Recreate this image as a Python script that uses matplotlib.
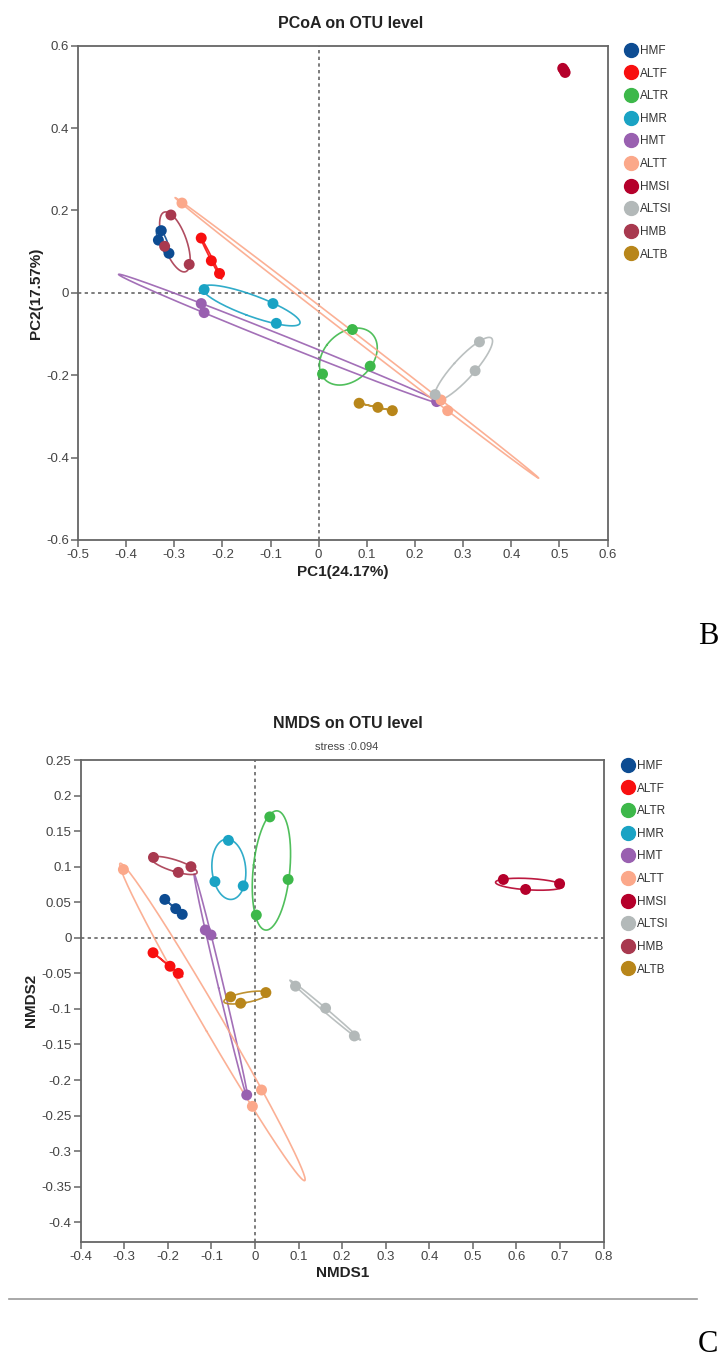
import numpy as np
import matplotlib
matplotlib.use("Agg")
import matplotlib.pyplot as plt
from matplotlib.lines import Line2D

plt.rcParams["font.family"] = ["Liberation Sans", "DejaVu Sans"]

groups = ["HMF", "ALTF", "ALTR", "HMR", "HMT", "ALTT", "HMSI", "ALTSI", "HMB", "ALTB"]
colors = ["#0d4c92", "#f80f0f", "#3db84a", "#1aa3c4", "#9960b0",
          "#fba88a", "#b5002b", "#b3b9b9", "#a8394f", "#b8861a"]

# PCoA coordinates (3 samples per group), in legend order
pcoa_x = [[-0.327, -0.333, -0.311],
          [-0.244, -0.223, -0.206],
          [0.070, 0.107, 0.008],
          [-0.238, -0.095, -0.088],
          [-0.244, -0.238, 0.245],
          [-0.284, 0.254, 0.268],
          [0.507, 0.510, 0.512],
          [0.334, 0.325, 0.242],
          [-0.307, -0.269, -0.320],
          [0.084, 0.123, 0.153]]
pcoa_y = [[0.151, 0.128, 0.096],
          [0.133, 0.078, 0.047],
          [-0.089, -0.178, -0.197],
          [0.008, -0.026, -0.074],
          [-0.026, -0.048, -0.264],
          [0.218, -0.260, -0.286],
          [0.545, 0.540, 0.535],
          [-0.119, -0.189, -0.247],
          [0.189, 0.069, 0.113],
          [-0.268, -0.278, -0.286]]

# NMDS coordinates
nmds_x = [[-0.207, -0.182, -0.167],
          [-0.234, -0.195, -0.176],
          [0.034, 0.076, 0.003],
          [-0.061, -0.092, -0.027],
          [-0.114, -0.101, -0.019],
          [-0.302, 0.015, -0.006],
          [0.570, 0.621, 0.699],
          [0.093, 0.162, 0.228],
          [-0.233, -0.176, -0.147],
          [-0.056, -0.033, 0.025]]
nmds_y = [[0.054, 0.041, 0.033],
          [-0.021, -0.040, -0.050],
          [0.170, 0.082, 0.032],
          [0.137, 0.079, 0.073],
          [0.011, 0.004, -0.221],
          [0.096, -0.214, -0.237],
          [0.082, 0.068, 0.076],
          [-0.068, -0.099, -0.138],
          [0.113, 0.092, 0.100],
          [-0.083, -0.092, -0.077]]

ELL_K = 1.2  # scale of the covariance ellipse


def fmt(v):
    v = round(v, 2)
    return "0" if v == 0 else f"{v:g}"


def ellipse(xs, ys, k=ELL_K):
    pts = np.column_stack([xs, ys])
    mu = pts.mean(axis=0)
    cov = np.cov(pts.T)
    vals, vecs = np.linalg.eigh(cov)
    vals = np.clip(vals, 1e-8, None)
    t = np.linspace(0, 2 * np.pi, 300)
    circ = np.vstack([np.cos(t), np.sin(t)])
    e = vecs @ (np.sqrt(vals)[:, None] * circ) * k
    return mu[0] + e[0], mu[1] + e[1]


def draw(ax, xs, ys, xlim, ylim, xticks, yticks):
    ax.axhline(0, color="#666666", lw=1.2, ls=(0, (2, 2)), zorder=1)
    ax.axvline(0, color="#666666", lw=1.2, ls=(0, (2, 2)), zorder=1)
    for gx, gy, c in zip(xs, ys, colors):
        ex, ey = ellipse(gx, gy)
        ax.plot(ex, ey, color=c, lw=1.2, alpha=0.9, zorder=2)
    for gx, gy, c in zip(xs, ys, colors):
        ax.scatter(gx, gy, s=62, color=c, edgecolors="none", zorder=3)
    ax.set_xlim(*xlim)
    ax.set_ylim(*ylim)
    ax.set_xticks(xticks)
    ax.set_xticklabels([fmt(v) for v in xticks])
    ax.set_yticks(yticks)
    ax.set_yticklabels([fmt(v) for v in yticks])
    for s in ax.spines.values():
        s.set_color("#666666")
        s.set_linewidth(1.3)
    ax.tick_params(direction="out", length=5, width=1.1, color="#666666",
                   labelsize=9.5, labelcolor="#444444", pad=1.5)


def legend(ax, x, y):
    handles = [Line2D([], [], ls="none", marker="o", ms=10, color=c) for c in colors]
    ax.legend(handles, groups, loc="upper left", bbox_to_anchor=(x, y),
              bbox_transform=fig.transFigure, frameon=False, fontsize=8.5,
              handlelength=0.6, handletextpad=0.5, labelspacing=0.9,
              borderpad=0, borderaxespad=0, labelcolor="#333333")


fig = plt.figure(figsize=(7.28, 13.64), dpi=100)
W, H = 728, 1364

# top: PCoA
ax1 = fig.add_axes([78 / W, 1 - 540 / H, 529.5 / W, 494.3 / H])
draw(ax1, pcoa_x, pcoa_y, (-0.5, 0.6), (-0.6, 0.6),
     np.round(np.arange(-0.5, 0.61, 0.1), 2), np.round(np.arange(-0.6, 0.61, 0.2), 2))
ax1.set_xlabel("PC1(24.17%)", fontsize=11, fontweight="bold", color="#222222")
ax1.set_ylabel("PC2(17.57%)", fontsize=11, fontweight="bold", color="#222222")
ax1.xaxis.set_label_coords(0.5, -0.05)
ax1.yaxis.set_label_coords(-0.066, 0.5)
legend(ax1, 627 / W, 1 - 45 / H)
fig.text(351 / W, 1 - 24 / H, "PCoA on OTU level", fontsize=11.5, fontweight="bold",
         ha="center", va="center", color="#222222")

# bottom: NMDS
ax2 = fig.add_axes([80.7 / W, 1 - 1241.7 / H, 522.9 / W, 481.7 / H])
draw(ax2, nmds_x, nmds_y, (-0.4, 0.8), (-0.4273, 0.25),
     np.round(np.arange(-0.4, 0.81, 0.1), 2), np.round(np.arange(-0.4, 0.251, 0.05), 2))
ax2.set_xlabel("NMDS1", fontsize=11, fontweight="bold", color="#222222")
ax2.set_ylabel("NMDS2", fontsize=11, fontweight="bold", color="#222222")
ax2.xaxis.set_label_coords(0.5, -0.05)
ax2.yaxis.set_label_coords(-0.082, 0.5)
legend(ax2, 624 / W, 1 - 760 / H)
fig.text(347.5 / W, 1 - 724 / H, "NMDS on OTU level", fontsize=11.5, fontweight="bold",
         ha="center", va="center", color="#222222")
fig.text(347 / W, 1 - 747 / H, "stress :0.094", fontsize=8,
         ha="center", va="center", color="#444444")

# panel letters and separator
fig.text(708 / W, 1 - 636 / H, "B", fontsize=22, family="Liberation Serif",
         ha="center", va="center")
fig.text(708 / W, 1 - 1344 / H, "C", fontsize=22, family="Liberation Serif",
         ha="center", va="center")
fig.add_artist(Line2D([9 / W, 697 / W], [1 - 1299 / H, 1 - 1299 / H],
                      color="#999999", lw=1.2))

fig.savefig("out.png", dpi=100)
